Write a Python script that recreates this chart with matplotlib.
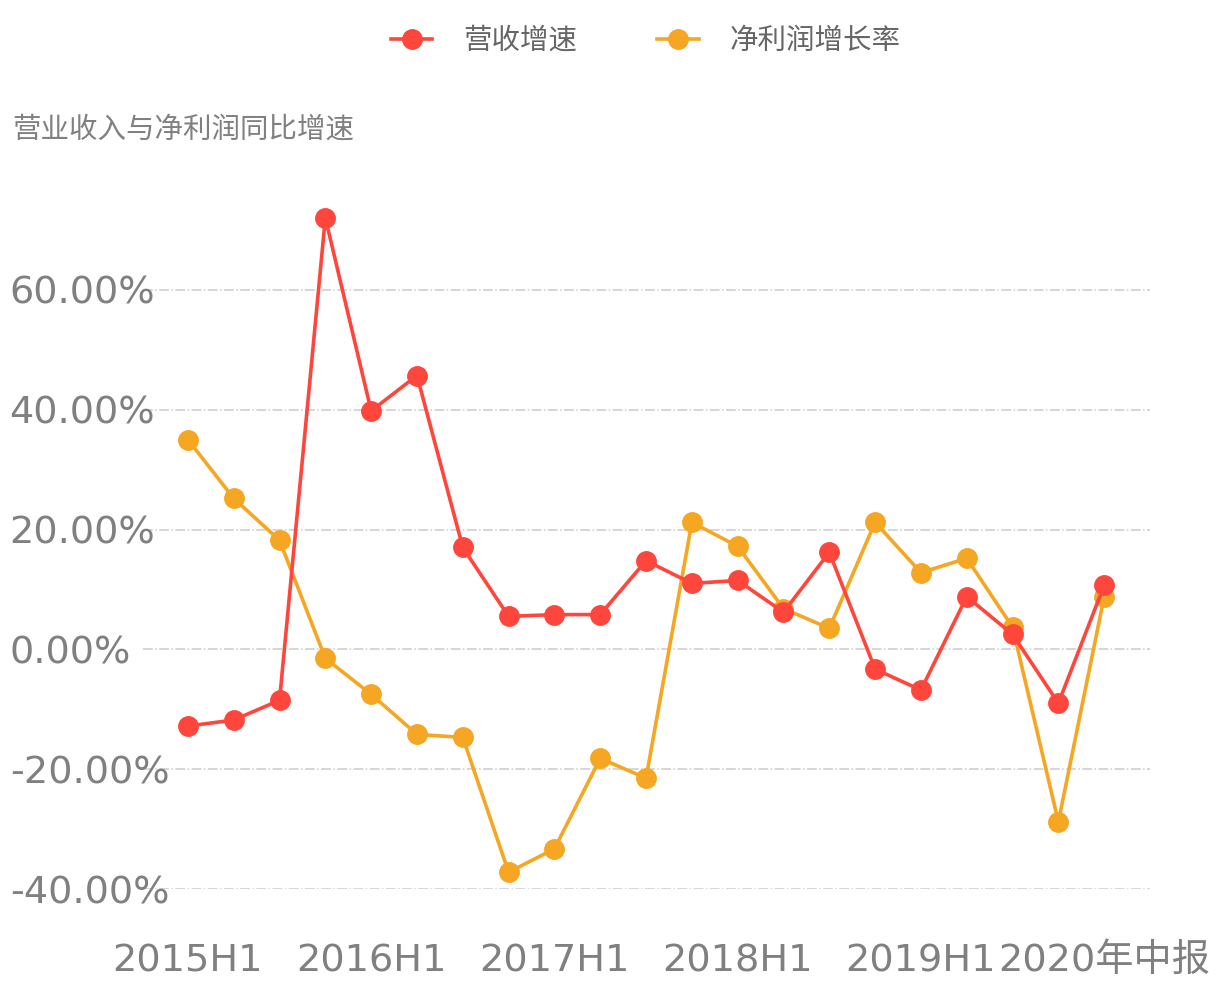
import matplotlib
matplotlib.use('Agg')
from matplotlib import pyplot as plt
import numpy as np

plt.rcParams['font.family'] = ['DejaVu Sans', 'Noto Sans CJK SC']

# categories (quarterly reports, one label shown every 4)
periods = ['2015H1', '2015Q3', '2015A', '2016Q1',
           '2016H1', '2016Q3', '2016A', '2017Q1',
           '2017H1', '2017Q3', '2017A', '2018Q1',
           '2018H1', '2018Q3', '2018A', '2019Q1',
           '2019H1', '2019Q3', '2019A', '2020Q1',
           '2020年中报']
shown = [0, 4, 8, 12, 16, 20]

series_names = ['营收增速', '净利润增长率']
revenue_growth = [-12.8, -11.8, -8.5, 72.0, 39.8, 45.7, 17.0, 5.5, 5.8, 5.8,
                  14.8, 11.0, 11.5, 6.2, 16.2, -3.3, -6.8, 8.8, 2.5, -9.0, 10.7]
profit_growth = [35.0, 25.2, 18.2, -1.5, -7.5, -14.2, -14.7, -37.2, -33.3, -18.2,
                 -21.5, 21.2, 17.2, 6.8, 3.5, 21.2, 12.8, 15.2, 3.7, -28.8, 8.8]
yticks = [-40, -20, 0, 20, 40, 60]
title = '营业收入与净利润同比增速'

red = '#ff463c'
orange = '#f5a623'
gray = '#808080'

W, H = 1219, 990
fig = plt.figure(figsize=(W/100, H/100), dpi=100)
# axes box in pixels
left, right, bottom, top = 143, 1150, 889, 194
ax = fig.add_axes([left/W, 1-bottom/H, (right-left)/W, (bottom-top)/H])

x = np.arange(len(periods))
ax.plot(x, revenue_growth, '-o', color=red, lw=2.6, ms=14, label=series_names[0], zorder=3)
ax.plot(x, profit_growth, '-o', color=orange, lw=2.6, ms=14, label=series_names[1], zorder=2)

ax.set_xlim(-0.98, 21.0)
ax.set_ylim(-40, 76)
ax.set_yticks(yticks)
ax.set_yticklabels(['%.2f%%' % v for v in yticks])
ax.set_xticks([x[i] for i in shown])
ax.set_xticklabels([periods[i] for i in shown])

for s in ax.spines.values():
    s.set_visible(False)
ax.yaxis.grid(True, color='#cccccc', lw=1.1, ls='-.')
ax.tick_params(axis='both', length=0, labelsize=27.5, labelcolor=gray)
ax.tick_params(axis='y', pad=96)
ax.tick_params(axis='x', pad=39)
for t in ax.get_yticklabels():
    t.set_horizontalalignment('left')

fig.text(12/W, 1-130/H, title, fontsize=20.5, color=gray, ha='left', va='center')

fig.legend(loc='center', bbox_to_anchor=(0.53, 1-41/H), ncol=2, frameon=False,
           fontsize=20.5, labelcolor='#666666', handlelength=1.45, columnspacing=2.8,
           handletextpad=1.1, markerscale=1.0)

fig.savefig('out.png', dpi=100)
